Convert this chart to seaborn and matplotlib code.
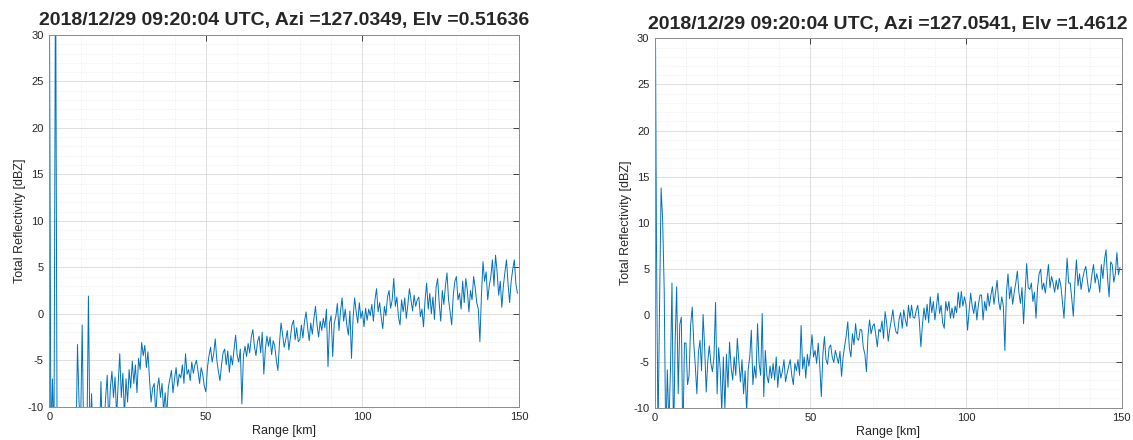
#radar_profiles.py

import numpy as np
import pandas as pd
import matplotlib
matplotlib.use("Agg")
import matplotlib.pyplot as plt
import seaborn as sns
from matplotlib.ticker import MultipleLocator

# range gates every 0.5 km
range_km = np.arange(0, 150, 0.5)

# low elevation ray (values below -10 are off the axis)
refl_low = [
    40, -14, -7, -14, 40, -15, -15, -15, -15, -15, -15, -15, -15, -15, -15, -15, -15, -15, -3.3, -9.5,
    -12, -1.2, -14, -14, -14, 1.9, -14, -8.6, -14, -14, -14, -14, -14, -7.3, -14, -12, -9, -6.6, -12, -8,
    -6.2, -9, -6.8, -11, -7.5, -4.3, -9, -6.4, -11, -7, -9.5, -6, -8, -5.1, -7.5, -5.5, -8.5, -4.8, -6, -3.1,
    -4.5, -3.4, -5.8, -4.1, -7, -9.5, -8, -7.5, -11, -8, -6.9, -9, -7.5, -10.5, -8.5, -11, -8, -7, -6.1, -8.5,
    -7, -5.8, -7.8, -6.5, -6.9, -5.5, -7.5, -4.3, -6.5, -6, -7.2, -5.2, -6.4, -5.5, -5, -6.2, -7.5, -5.8, -6.5, -7.8,
    -8.4, -5.8, -4.5, -3.6, -5.2, -4.3, -2.7, -5, -6.2, -7.2, -5.5, -4.2, -3.8, -5.5, -4, -6.3, -4.5, -5.5, -3.8, -2.3,
    -4.5, -5.2, -3.8, -9.7, -4.5, -3.5, -4.6, -3.2, -4.2, -2.5, -1.7, -3.5, -4.5, -3, -2.4, -4.2, -2, -6.5, -3.8, -2.4,
    -3.5, -2.5, -4.4, -2.9, -3.5, -5, -6.1, -3.2, -1, -2.2, -3.6, -2.8, -1.8, -3.9, -2.5, -1.2, -0.7, -2.8, -1.5, -3,
    -2.8, -1.2, -2.6, -0.8, 0.2, -1.5, -2.9, -1, -2.2, -0.5, 0.8, -1.2, -2.5, -0.8, -1.8, -0.5, -1.5, 0.5, -5.7, -1,
    -0.2, -4.6, -1, -0.3, 1.1, -1.8, 0.3, 1.7, -0.8, 0.5, -1.2, -2.3, 0.3, -4.8, -0.5, 1.7, 0.2, -1, 1.2, -0.5,
    0.3, -1.4, 0.6, -0.7, 0.5, -0.2, 1, -0.8, 1.5, 2.7, 0.2, 1.2, -0.4, -1.6, 0.8, -0.2, 1.8, 2.5, 0.6, 1.5,
    3.8, 0.8, 1.8, -0.4, -1.2, 1.5, 0.2, 1.7, -0.5, 1, 2.7, 1.5, 0.3, 2, 0.8, 1.5, 1.8, -0.3, 0.5, -1.4,
    1.5, 3.3, 0.5, 2.2, 0, 1.8, -0.6, 2.8, 3.8, 1.2, -0.8, 2.5, 1, 3, 4.4, 1.5, 0.2, -1.2, 2, 3.5,
    4, 1.5, 2.2, 0.5, 3.5, 1.2, 3.8, 2.5, 0.2, 2.5, 1.5, 4, 2.8, 1.2, 0.5, -3, 2, 5.6, 3.5, 4.5,
    1.5, 3, 4, 5.8, 3, 6.3, 4.5, 2, 3.5, 0.7, 3, 4.5, 5.8, 3.2, 1.2, 3.5, 4.8, 5.8, 3.2, 2.2,
]

# higher elevation ray
refl_high = [
    45, 8.2, -13, 0.9, 13.8, 10.3, 2.7, -14, -5.9, -12, -6, 3.5, -14, -3, 3.1, -8.5, -1, -0.2, -14, -3,
    -3, -7.5, -6.5, -1, 0.9, -3, -5.5, -8.5, -4, -2.7, -6, 0.1, -3.5, -8.3, -5, -3.3, -5.2, -6.1, -4.5, 1.4,
    -8.5, -3.5, -5.8, -10.5, -4.5, -10.2, -4.2, -7.8, -2.9, -5.6, -7, -4.5, -6.5, -2.5, -5, -7.2, -4.8, -8.5, -6, -10.5,
    -5.8, -4.5, -1.6, -7.5, -5.5, -6.8, -0.9, -5.2, -6.5, 0.2, -8.8, -3.8, -6.5, -7.3, -5.5, -6.8, -5.2, -7, -4.5, -7.8,
    -5.5, -6.8, -6, -4.8, -7.2, -6.3, -5.5, -4.8, -6.5, -7.5, -5.2, -6, -4.8, -6.5, -1.1, -5.8, -4.5, -6.8, -4.2, -5.5,
    -4.1, -2.1, -4.5, -3.8, -5.2, -3, -5.5, -8.8, -4.2, -2.3, -4.8, -5.3, -3.5, -3.2, -4.5, -5.1, -3.8, -4.5, -5.2, -3.9,
    -6.6, -4.5, -3.3, -2.2, -0.7, -3.5, -4.5, -2, -3.2, -0.9, -2.5, -2.7, -1.5, -1.6, -3.5, -4.2, -6.1, -2.2, -0.5, -2,
    -1.2, -0.9, -2.1, -3.4, -1.5, -1.8, -0.6, -2.5, 0.4, -0.8, -2.8, -1.5, -0.5, 0.6, -1, -1.8, -2, -0.4, 0.3, -1.4,
    0.6, -0.5, -1.2, 1.1, -0.3, 1.1, -0.2, -0.3, 0.5, 1.1, -0.6, -3.4, -1, 0.8, -0.5, 1.2, -0.8, 2, 0.3, 1.5,
    -0.5, 1, 2.4, 0.2, 1.1, -0.8, -1.4, 1.5, 0.5, 1.5, -0.3, 0.8, -0.3, 1, 0.3, 2.5, 0.8, 2.6, 1, 2,
    1.2, -1.6, 0.5, 2.4, 1, 0.2, 1.5, -0.5, 1.2, 2.2, 2.2, -0.5, 1.5, 0.5, 2.4, 1, 2.2, 3.1, 1.2, 2.5,
    3.8, 1.5, 0.6, 2, 1, -3.8, 2.5, 4.5, 1.8, 3.1, 1.2, 2.5, 3.5, 4.8, 2.5, 1.3, 3, -0.9, 2.5, 5.6,
    3, 2.8, 3.5, 1.5, 2.5, -0.3, 3, 4.5, 5, 2.8, 3.5, 2.4, 4, 5.5, 3, 4.2, 3.5, 2.5, 3.8, 2.8,
    4, 3.2, 1.5, -0.3, 3, 6.2, 3.5, 3.5, 1.8, -0.1, 3.5, 6, 3.2, 4.5, 2.8, 4, 4.8, 5.3, 3.8, 2.5,
    3, 4.5, 5.5, 3.5, 4.5, 3.8, 2.5, 5.5, 4, 6, 7.1, 4, 2, 5.8, 5.5, 3.6, 4.5, 6.8, 4.4, 5.2,
]

titles = [
    "2018/12/29 09:20:04 UTC, Azi =127.0349, Elv =0.51636",
    "2018/12/29 09:20:04 UTC, Azi =127.0541, Elv =1.4612",
]

sns.set_style("white")
plt.rcParams['font.family'] = ['Liberation Sans', 'DejaVu Sans']
plt.rcParams['axes.unicode_minus'] = False

fig = plt.figure(figsize=(11.33, 4.4), dpi=100)
ax1 = fig.add_axes([0.0435, 0.0757, 0.4146, 0.8448])
ax2 = fig.add_axes([0.578, 0.0734, 0.4119, 0.8395])

for ax, vals, title in zip([ax1, ax2], [refl_low, refl_high], titles):
    df = pd.DataFrame({"range": range_km, "refl": vals})
    sns.lineplot(data=df, x="range", y="refl", ax=ax, color="#0072BD", linewidth=0.7)
    ax.set_xlim(0, 150)
    ax.set_ylim(-10, 30)
    ax.xaxis.set_major_locator(MultipleLocator(50))
    ax.xaxis.set_minor_locator(MultipleLocator(10))
    ax.yaxis.set_major_locator(MultipleLocator(5))
    ax.yaxis.set_minor_locator(MultipleLocator(1))
    ax.grid(which="major", color="#d9d9d9", linewidth=0.6, linestyle="-")
    ax.grid(which="minor", color="#ebebeb", linewidth=0.5, linestyle=(0, (2, 2)))
    ax.set_axisbelow(True)
    ax.tick_params(which="major", direction="in", length=4, width=0.6, top=True, right=True,
                   labelsize=8, colors="#262626", pad=4)
    ax.tick_params(which="minor", length=0, top=True, right=True)
    for s in ax.spines.values():
        s.set_color("#8c8c8c")
        s.set_linewidth(0.7)
    ax.set_xlabel("Range [km]", fontsize=9, color="#262626", labelpad=2)
    ax.set_ylabel("Total Reflectivity [dBZ]", fontsize=9, color="#262626", labelpad=1)
    ax.set_title(title, fontsize=14, fontweight="bold", pad=7)

fig.savefig("out.png", dpi=100)
